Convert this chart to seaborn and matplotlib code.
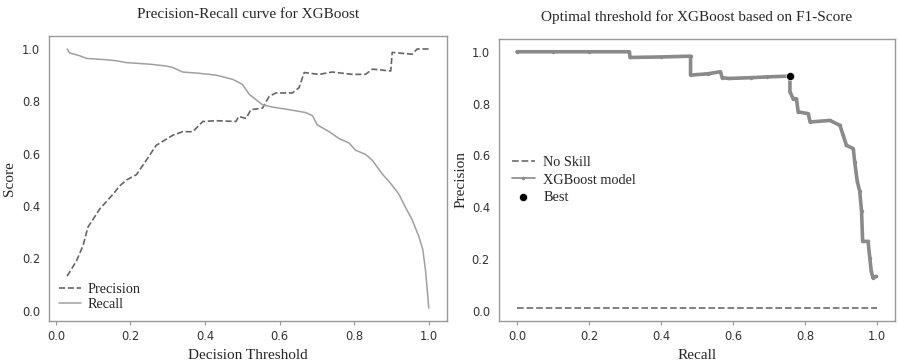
import matplotlib
matplotlib.use("Agg")
import matplotlib.pyplot as plt
import seaborn as sns

# Precision / Recall vs decision threshold
thr_p = [0.03, 0.055, 0.073, 0.086, 0.10, 0.118, 0.131, 0.153, 0.171, 0.19,
         0.216, 0.242, 0.269, 0.314, 0.34, 0.367, 0.385, 0.394, 0.43, 0.483,
         0.49, 0.51, 0.523, 0.554, 0.572, 0.59, 0.634, 0.652, 0.666, 0.706,
         0.741, 0.795, 0.83, 0.849, 0.898, 0.902, 0.955, 0.969, 1.0]
precision = [0.132, 0.19, 0.25, 0.32, 0.35, 0.39, 0.41, 0.445, 0.477, 0.50,
             0.52, 0.574, 0.632, 0.671, 0.684, 0.684, 0.71, 0.723, 0.726, 0.723,
             0.742, 0.735, 0.768, 0.774, 0.819, 0.832, 0.832, 0.852, 0.91, 0.903,
             0.912, 0.903, 0.903, 0.923, 0.916, 0.987, 0.98, 1.0, 1.0]
thr_r = [0.03, 0.037, 0.064, 0.082, 0.135, 0.162, 0.189, 0.251, 0.296, 0.314,
         0.34, 0.385, 0.43, 0.474, 0.50, 0.519, 0.537, 0.554, 0.581, 0.626,
         0.67, 0.688, 0.701, 0.733, 0.759, 0.786, 0.804, 0.831, 0.849, 0.875,
         0.898, 0.92, 0.938, 0.955, 0.973, 0.984, 0.991, 0.996, 1.0]
recall = [1.0, 0.985, 0.974, 0.964, 0.959, 0.955, 0.948, 0.942, 0.935, 0.929,
          0.912, 0.907, 0.90, 0.884, 0.865, 0.826, 0.806, 0.787, 0.778, 0.768,
          0.757, 0.745, 0.71, 0.684, 0.658, 0.641, 0.613, 0.597, 0.574, 0.523,
          0.486, 0.445, 0.394, 0.349, 0.285, 0.234, 0.157, 0.08, 0.01]

# PR curve of the model
pr_recall = [0.0, 0.10, 0.20, 0.312, 0.314, 0.40, 0.482, 0.482, 0.53, 0.565,
             0.57, 0.588, 0.65, 0.694, 0.758, 0.758, 0.767, 0.776, 0.781, 0.809,
             0.814, 0.869, 0.897, 0.906, 0.915, 0.934, 0.938, 0.945, 0.952, 0.957,
             0.960, 0.975, 0.980, 0.984, 0.989, 0.998]
pr_precision = [1.0, 1.0, 1.0, 1.0, 0.978, 0.98, 0.983, 0.91, 0.915, 0.923,
                0.90, 0.897, 0.9, 0.903, 0.906, 0.845, 0.819, 0.819, 0.768, 0.761,
                0.729, 0.735, 0.716, 0.677, 0.639, 0.626, 0.574, 0.50, 0.461, 0.384,
                0.268, 0.268, 0.203, 0.152, 0.126, 0.133]
no_skill_x = [0.0, 1.0]
no_skill_y = [0.01, 0.01]
best_x = [0.758]
best_y = [0.906]

sns.set_style("white")
serif = ["Liberation Serif", "DejaVu Serif"]
plt.rcParams["font.family"] = ["DejaVu Sans"]

fig = plt.figure(figsize=(8.98, 3.64), dpi=100)
ax1 = fig.add_axes([0.0546, 0.118, 0.443, 0.783])
ax2 = fig.add_axes([0.5557, 0.118, 0.441, 0.775])

sns.lineplot(x=thr_p, y=precision, ax=ax1, color="#666666", linestyle="--",
             lw=1.2, label="Precision", estimator=None, sort=False)
sns.lineplot(x=thr_r, y=recall, ax=ax1, color="#a0a0a0", lw=1.1,
             label="Recall", estimator=None, sort=False)
ax1.set_title("Precision-Recall curve for XGBoost", family=serif, fontsize=11, pad=13)
ax1.set_xlabel("Decision Threshold", family=serif, fontsize=11, labelpad=4)
ax1.set_ylabel("Score", family=serif, fontsize=11, labelpad=4)
ax1.legend(loc="lower left", frameon=False, prop={"family": serif, "size": 10.3},
           handlelength=1.5, handletextpad=0.5, borderaxespad=0.3, labelspacing=0.15)

sns.lineplot(x=no_skill_x, y=no_skill_y, ax=ax2, color="#777777", linestyle="--",
             lw=1.3, label="No Skill", estimator=None, sort=False)
sns.lineplot(x=pr_recall, y=pr_precision, ax=ax2, color="#8a8a8a", lw=2.6,
             marker=".", markersize=5, markeredgewidth=0, label="XGBoost model",
             estimator=None, sort=False)
sns.scatterplot(x=best_x, y=best_y, ax=ax2, color="black", s=34, zorder=5,
                label="Best")
ax2.set_title("Optimal threshold for XGBoost based on F1-Score", family=serif,
              fontsize=11, pad=13)
ax2.set_xlabel("Recall", family=serif, fontsize=11, labelpad=4)
ax2.set_ylabel("Precision", family=serif, fontsize=11, labelpad=3)
leg = ax2.legend(loc="center left", bbox_to_anchor=(0.0, 0.5), frameon=False,
                 prop={"family": serif, "size": 10.3}, handlelength=1.6,
                 handletextpad=0.6, labelspacing=0.3)
leg.get_lines()[1].set_linewidth(1.2)

for ax in (ax1, ax2):
    ax.set_xticks([0.0, 0.2, 0.4, 0.6, 0.8, 1.0])
    ax.set_yticks([0.0, 0.2, 0.4, 0.6, 0.8, 1.0])
    ax.tick_params(axis="both", labelsize=8.3, labelcolor="#333333", length=3,
                   color="#999999", width=0.8, bottom=True, left=False)
    for s in ax.spines.values():
        s.set_color("#999999")
        s.set_linewidth(1.0)

plt.savefig("out.png", dpi=100)
